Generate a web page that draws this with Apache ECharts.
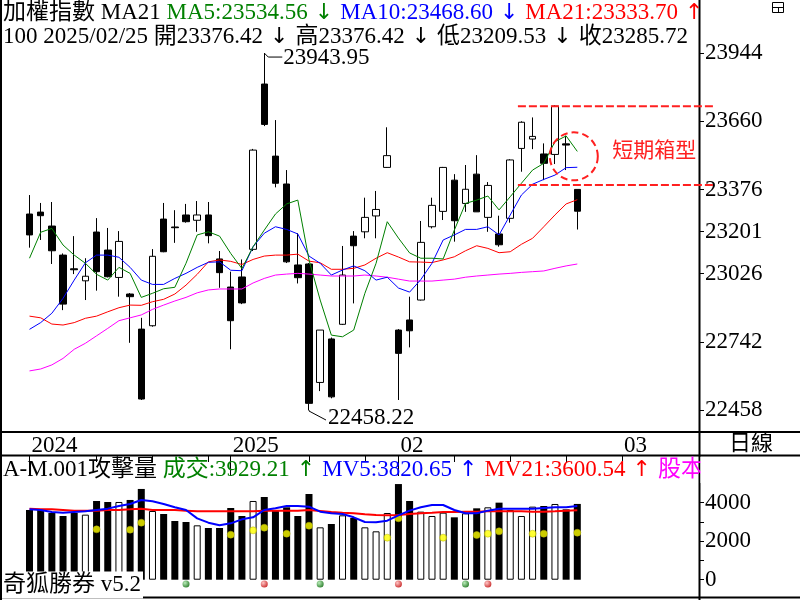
<!DOCTYPE html>
<html>
<head>
<meta charset="utf-8">
<script src="https://cdn.jsdelivr.net/npm/echarts@6/dist/echarts.min.js"></script>
<style>
  html, body { margin: 0; padding: 0; background: #fff; }
  #chart { width: 800px; height: 600px; }
</style>
</head>
<body>
<div id="chart"></div>
<script>
// trading days shown (last 10 are empty future slots)
const dates = [
  '2024/12/06','2024/12/09','2024/12/10','2024/12/11','2024/12/12','2024/12/13','2024/12/16','2024/12/17','2024/12/18','2024/12/19',
  '2024/12/20','2024/12/23','2024/12/24','2024/12/25','2024/12/26','2024/12/27','2024/12/30','2024/12/31','2025/01/02','2025/01/03',
  '2025/01/06','2025/01/07','2025/01/08','2025/01/09','2025/01/10','2025/01/13','2025/01/14','2025/01/15','2025/01/16','2025/01/17',
  '2025/01/20','2025/01/21','2025/01/22','2025/02/03','2025/02/04','2025/02/05','2025/02/06','2025/02/07','2025/02/10','2025/02/11',
  '2025/02/12','2025/02/13','2025/02/14','2025/02/17','2025/02/18','2025/02/19','2025/02/20','2025/02/21','2025/02/24','2025/02/25',
  '2025/02/26','2025/02/27','2025/02/28','2025/03/03','2025/03/04','2025/03/05','2025/03/06','2025/03/07','2025/03/10','2025/03/11'
]

const opens  = [23274,23282,23224,23103,23046,22996,23199,23124,23010,22941,22795,22809,23253,23220,23270,23248,23270,23087,22970,23012,
                23127,23815,23515,23399,23062,23066,22573,22754,22815,23182,23200,23266,23468,22791,22833,22916,23221,23285,23415,23318,
                23440,23260,23191,23256,23547,23586,23524,23522,23566,23376.42]
const highs  = [23353,23320,23324,23110,23182,23090,23257,23216,23203,22945,22842,23128,23320,23290,23316,23328,23324,23120,23034,23085,
                23545,23943.95,23665,23457,23194,23070,22791,22760,23141,23203,23342,23370,23635,22795,22930,23245,23342,23470,23440,23478,
                23519,23407,23267,23502,23660,23676,23568,23727,23600,23376.42]
const lows   = [23134,23166,23066,22874,23024,22916,22955,23010,22930,22738,22500,22805,23115,23154,23238,23200,23152,22967,22711,22899,
                23120,23640,23385,23070,22985,22458.22,22537,22507,22812,22902,23173,23173,23466,22500,22719,22914,23214,23249,23159,23283,
                23283,23200,23138,23238,23450,23544,23415,23482,23457,23209.53]
const closes = [23187,23267,23121,22899,23042,23015,23034,23013,23160,22930,22504,23098,23117,23217,23242,23270,23184,23030,22830,22904,
                23540,23647,23402,23075,23009,22486,22791,22513,23020,23142,23260,23293,23517,22694,22788,23156,23310,23468,23246,23377,
                23283,23393,23146,23499,23656,23597,23485,23723,23561,23285.72]

const ma5  = [23090,23198,23214,23145,23103,23069,23023,22999,23052,23027,22927,22944,22963,22969,23069,23187,23200,23182,23110,23047,
              23138,23207,23274,23316,23332,23083,22916,22770,22763,22791,22944,23069,23242,23174,23112,23090,23090,23087,23207,23318,
              23332,23349,23291,23346,23402,23457,23485,23575,23599,23534.56]
const ma10 = [22794,22822,22861,22923,22999,23071,23103,23103,23094,23052,22999,22981,22981,23006,23027,23052,23073,23075,23040,23038,
              23138,23194,23221,23210,23191,23099,23069,23020,23041,23058,23038,22999,23011,22966,22949,23001,23069,23166,23187,23210,
              23210,23221,23187,23270,23353,23398,23418,23436,23467,23468.60]
const ma21 = [22849,22842,22816,22812,22822,22840,22849,22867,22884,22895,22894,22909,22919,22941,22978,23023,23075,23083,23077,23064,
              23085,23099,23103,23103,23107,23078,23071,23044,23044,23048,23062,23090,23113,23095,23075,23074,23072,23083,23096,23121,
              23142,23131,23113,23117,23148,23173,23221,23270,23316,23333.70]
const ma60 = [22621,22629,22646,22673,22711,22736,22767,22798,22830,22842,22854,22877,22895,22912,22927,22946,22958,22962,22962,22962,
              22987,23006,23020,23024,23027,23024,23020,23016,23016,23016,23020,23016,23011,23003,22995,22995,22995,22999,23003,23011,
              23016,23020,23024,23027,23031,23034,23037,23048,23058,23066]

const volumes = [3616,3616,3460,3304,3460,3374,4083,4031,4031,4135,4706,3564,3408,3045,2993,2820,2682,2682,3720,3304,
                 4083,4290,3564,3754,3304,4446,2716,2889,3339,3201,2716,2509,3460,4960,4083,3529,3304,3477,3235,3443,
                 3702,3754,3996,3616,3304,3789,3823,3927,3650,3929.21]
const mv5  = [3650,3616,3512,3477,3512,3547,3616,3685,3823,3927,4135,4066,3927,3754,3616,3183,2958,2820,2924,3131,
              3235,3616,3702,3823,3823,3789,3529,3443,3408,3235,2993,2976,3062,3339,3581,3754,3875,3875,3616,3443,
              3443,3581,3685,3685,3685,3685,3720,3754,3754,3820.65]
const mv21 = [3685,3650,3650,3616,3581,3581,3581,3616,3616,3650,3685,3616,3616,3616,3581,3547,3547,3547,3547,3547,
              3547,3581,3581,3581,3581,3616,3564,3512,3477,3443,3391,3356,3339,3356,3408,3443,3477,3512,3512,3529,
              3529,3547,3547,3547,3547,3529,3529,3547,3581,3600.54]

// attack-volume markers (yellow) and buy / sell dots
const attackIdx = [6,9,10,18,20,21,23,25,32,33,37,40,41,42,45,46,49]
const attackVal = [2612,2595,2958,2336,2560,2699,2387,2803,2180,3183,2180,2318,2387,2509,2387,2387,2439]
const buyIdx = [14,26,39]
const sellIdx = [21,33,41]
const signalVal = -220

const priceTicks = [22458,22742,23026,23201,23376,23660,23944]
const volLabels = [0,2000,4000]
const volTicks = [0,1000,2000,3000,4000]
const periodIdx = [0,18,33,53]
const periodLabels = ['2024','2025','02','03']
const weekTickIdx = [6,11,16,25,30,38,43,48]
const boxTop = 23723
const boxBottom = 23395

const FONT = "'Liberation Serif', 'Noto Sans CJK TC', serif"
const ARROW = "'DejaVu Sans'"
const slotW = 11.18
const gLeft = 23.9
const gWidth = slotW * dates.length
const axisX = 700
const yOffset = axisX - (gLeft + gWidth)

const chart = echarts.init(document.getElementById('chart'))

const candles = opens.map((o, i) => [o, closes[i], lows[i], highs[i]])
const volBars = volumes.map((v, i) => ({
  value: v,
  itemStyle: closes[i] >= opens[i]
    ? { color: '#fff', borderColor: '#000', borderWidth: 1 }
    : { color: '#000' }
}))

const dot = (c0, c1) => ({
  type: 'radial', x: 0.35, y: 0.35, r: 0.7,
  colorStops: [{ offset: 0, color: c0 }, { offset: 1, color: c1 }]
})

const lineSeries = (data, color, width, xi, yi) => ({
  type: 'line', xAxisIndex: xi, yAxisIndex: yi, data: data, symbol: 'none',
  lineStyle: { color: color, width: width }, silent: true
})

chart.setOption({
  animation: false,
  backgroundColor: '#fff',
  grid: [
    { left: gLeft, width: gWidth, top: 51.6, height: 360.4 },
    { left: gLeft, width: gWidth, top: 432, height: 23 },
    { left: gLeft, width: gWidth, top: 432, height: 23 },
    { left: gLeft, width: gWidth, top: 464, height: 135 }
  ],
  xAxis: [
    { gridIndex: 0, type: 'category', data: dates, show: false },
    {
      gridIndex: 1, type: 'category', data: dates, position: 'top',
      axisLine: { show: false },
      axisTick: { show: true, inside: true, length: 21, alignWithLabel: true,
        interval: (i) => periodIdx.includes(i), lineStyle: { color: '#000' } },
      axisLabel: { show: true, inside: true, interval: (i) => periodIdx.includes(i),
        formatter: (v, i) => periodLabels[periodIdx.indexOf(i)],
        align: 'left', verticalAlign: 'top', margin: 2, padding: [0, 0, 0, 2],
        fontFamily: FONT, fontSize: 23, color: '#000' }
    },
    {
      gridIndex: 2, type: 'category', data: dates, position: 'top',
      axisLine: { show: false },
      axisTick: { show: true, inside: true, length: 7, alignWithLabel: true,
        interval: (i) => weekTickIdx.includes(i), lineStyle: { color: '#000' } },
      axisLabel: { show: false }
    },
    { gridIndex: 3, type: 'category', data: dates, show: false }
  ],
  yAxis: [
    {
      gridIndex: 0, type: 'value', min: 22450, max: 23950, position: 'right', offset: yOffset,
      axisLine: { show: false }, splitLine: { show: false },
      axisTick: { show: true, length: 4, customValues: priceTicks, lineStyle: { color: '#000' } },
      axisLabel: { customValues: priceTicks, formatter: v => String(v), margin: 5,
        fontFamily: FONT, fontSize: 23, color: '#000' }
    },
    { gridIndex: 1, show: false },
    { gridIndex: 2, show: false },
    {
      gridIndex: 3, type: 'value', min: -1000, max: 6000, position: 'right', offset: yOffset,
      axisLine: { show: false }, splitLine: { show: false },
      axisTick: { show: true, length: 4, customValues: volTicks, lineStyle: { color: '#000' } },
      axisLabel: { customValues: volLabels, formatter: v => String(v), margin: 5,
        fontFamily: FONT, fontSize: 23, color: '#000' }
    }
  ],
  series: [
    {
      type: 'candlestick', xAxisIndex: 0, yAxisIndex: 0, data: candles, barWidth: 7,
      itemStyle: { color: '#fff', color0: '#000', borderColor: '#000', borderColor0: '#000', borderWidth: 1 }
    },
    lineSeries(ma60, '#ff00ff', 1, 0, 0),
    lineSeries(ma21, '#ff0000', 1, 0, 0),
    lineSeries(ma10, '#0000ff', 1, 0, 0),
    lineSeries(ma5, '#008000', 1, 0, 0),
    { type: 'bar', xAxisIndex: 3, yAxisIndex: 3, data: volBars, barWidth: 7 },
    lineSeries(mv21, '#ff0000', 2, 3, 3),
    lineSeries(mv5, '#0000ff', 2, 3, 3),
    {
      type: 'scatter', xAxisIndex: 3, yAxisIndex: 3, symbolSize: 7,
      data: attackIdx.map((d, k) => [d, attackVal[k]]),
      itemStyle: { color: '#ffff00', borderColor: '#b0b000', borderWidth: 0.6 }
    },
    {
      type: 'scatter', xAxisIndex: 3, yAxisIndex: 3, symbolSize: 7,
      data: buyIdx.map(d => [d, signalVal]),
      itemStyle: { color: dot('#a8e8a8', '#006400') }
    },
    {
      type: 'scatter', xAxisIndex: 3, yAxisIndex: 3, symbolSize: 7,
      data: sellIdx.map(d => [d, signalVal]),
      itemStyle: { color: dot('#ffb8b8', '#c00000') }
    }
  ]
})

// annotations placed from data coordinates
const last = opens.length - 1
const pHigh = chart.convertToPixel({ gridIndex: 0 }, [21, highs[21]])
const pLow = chart.convertToPixel({ gridIndex: 0 }, [25, lows[25]])
const yBoxTop = chart.convertToPixel({ yAxisIndex: 0 }, boxTop)
const yBoxBot = chart.convertToPixel({ yAxisIndex: 0 }, boxBottom)
const xBoxStart = chart.convertToPixel({ xAxisIndex: 0 }, 44) - 3.5
const pCircle = chart.convertToPixel({ gridIndex: 0 }, [last, 23514])
const fmt = v => v.toFixed(2)

const hline = (y, x1, x2) => ({
  type: 'line', z: 100, shape: { x1: x1, y1: y, x2: x2, y2: y },
  style: { stroke: '#000', lineWidth: 2 }
})
const vline = (x, y1, y2) => ({
  type: 'line', z: 100, shape: { x1: x, y1: y1, x2: x, y2: y2 },
  style: { stroke: '#000', lineWidth: 2 }
})
const label = (x, y, text, extra) => ({
  type: 'text', z: 101, x: x, y: y,
  style: Object.assign({ text: text, fill: '#000', font: '23px ' + FONT, verticalAlign: 'middle' }, extra || {})
})
// rich styles: t = text font, a = arrow font
const richSet = {}
;[['k', '#000'], ['g', '#008000'], ['b', '#0000ff'], ['r', '#ff0000'], ['m', '#ff00ff']].forEach(([n, c]) => {
  richSet[n] = { fill: c, font: '23px ' + FONT }
  richSet[n + 'a'] = { fill: c, font: '22px ' + ARROW }
})
const richText = (x, y, text) => ({
  type: 'text', z: 101, x: x, y: y,
  style: { text: text, verticalAlign: 'middle', rich: richSet }
})

chart.setOption({
  graphic: [
    vline(1, 0, 600),
    vline(axisX - 0.5, 0, 600),
    hline(432, 0, 800),
    hline(455.5, 0, 800),
    hline(597.5, 0, 800),
    // small window icon, top right
    { type: 'rect', z: 100, shape: { x: 772.5, y: 2.5, width: 11, height: 10 }, style: { fill: '#fff', stroke: '#000', lineWidth: 1 } },
    { type: 'line', z: 100, shape: { x1: 772.5, y1: 7.5, x2: 783.5, y2: 7.5 }, style: { stroke: '#000', lineWidth: 1 } },
    { type: 'line', z: 100, shape: { x1: 778.5, y1: 7.5, x2: 778.5, y2: 12.5 }, style: { stroke: '#000', lineWidth: 1 } },
    richText(3, 13,
      '{k|加權指數 MA21 }{g|MA5:' + fmt(ma5[last]) + '}{ga| ↓ }{b|MA10:' + fmt(ma10[last]) +
      '}{ba| ↓ }{r|MA21:' + fmt(ma21[last]) + '}{ra| ↑}'),
    richText(3, 37,
      '{k|100 ' + dates[last] + ' 開' + fmt(opens[last]) + '}{ka| ↓ }{k|高' + fmt(highs[last]) +
      '}{ka| ↓ }{k|低' + fmt(lows[last]) + '}{ka| ↓ }{k|收' + fmt(closes[last]) + '}'),
    richText(3, 470,
      '{k|A-M.001攻擊量 }{g|成交:' + fmt(volumes[last]) + '}{ga| ↑ }{b|MV5:' + fmt(mv5[last]) +
      '}{ba| ↑ }{r|MV21:' + fmt(mv21[last]) + '}{ra| ↑ }{m|股本}'),
    // mask anything spilling past the price axis in the volume header
    { type: 'rect', z: 102, shape: { x: axisX + 0.5, y: 457, width: 99, height: 26 }, style: { fill: '#fff' } },
    label(751, 444, '日線', { align: 'center', font: '22px ' + FONT }),
    label(2, 585, '奇狐勝券 v5.2', { backgroundColor: '#fff', padding: [2, 2, 2, 1] }),
    // high / low callouts
    { type: 'polyline', z: 100, shape: { points: [[pHigh[0], pHigh[1]], [pHigh[0] + 4, pHigh[1] + 4], [pHigh[0] + 18, pHigh[1] + 4]] }, style: { stroke: '#000', lineWidth: 1, fill: null } },
    label(pHigh[0] + 19, pHigh[1] + 5, fmt(highs[21])),
    { type: 'polyline', z: 100, shape: { points: [[pLow[0], pLow[1]], [pLow[0], pLow[1] + 1], [pLow[0] + 17, pLow[1] + 10]] }, style: { stroke: '#000', lineWidth: 1, fill: null } },
    label(pLow[0] + 19, pLow[1] + 8, fmt(lows[25])),
    // short-term box
    { type: 'line', z: 100, shape: { x1: xBoxStart, y1: yBoxTop, x2: 715, y2: yBoxTop }, style: { stroke: '#ff2020', lineWidth: 2, lineDash: [8, 3] } },
    { type: 'line', z: 100, shape: { x1: xBoxStart, y1: yBoxBot, x2: 715, y2: yBoxBot }, style: { stroke: '#ff2020', lineWidth: 2, lineDash: [8, 3] } },
    { type: 'circle', z: 100, shape: { cx: pCircle[0] - 3.5, cy: pCircle[1], r: 24 }, style: { fill: null, stroke: '#ff2020', lineWidth: 2, lineDash: [7, 4] } },
    label(pCircle[0] + 35, pCircle[1] - 7, '短期箱型', { fill: '#ff2020', font: '21px "Noto Sans CJK TC"' })
  ]
})
</script>
</body>
</html>
